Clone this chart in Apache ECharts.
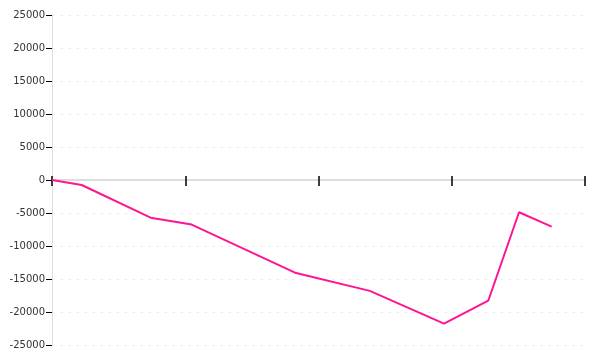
<!DOCTYPE html>
<html><head><meta charset="utf-8">
<script src="https://cdn.jsdelivr.net/npm/echarts@6/dist/echarts.min.js"></script>
<style>html,body{margin:0;padding:0;background:#fff}#c{width:600px;height:360px}</style>
</head><body><div id="c"></div>
<script>
var xValues = [0, 0.223, 0.74, 1.048, 1.824, 2.385, 2.942, 3.274, 3.505, 3.750];
var yValues = [0, -760, -5710, -6750, -14040, -16800, -21770, -18290, -4890, -7070];
var yTicks = [-25000, -20000, -15000, -10000, -5000, 0, 5000, 10000, 15000, 20000, 25000];

var data = xValues.map(function(x, i){ return [x, yValues[i]]; });
var chart = echarts.init(document.getElementById('c'), null, {renderer:'canvas'});
var labelFont = {color:'#333', fontFamily:'DejaVu Sans', fontSize:10};
chart.setOption({
  animation:false,
  grid:{left:52, right:15, top:15, bottom:15, containLabel:false},
  xAxis:[{
    type:'value', min:0, max:4, interval:1,
    axisLine:{onZero:true, lineStyle:{color:'#ddd', width:2}},
    axisTick:{show:true, length:6, lineStyle:{color:'#000', width:1.5}},
    axisLabel:{show:false},
    splitLine:{show:false}
  },{
    type:'value', min:0, max:4, interval:1, position:'bottom', offset:-165,
    axisLine:{show:false, onZero:false},
    axisTick:{show:true, inside:true, length:4, lineStyle:{color:'#000', width:1.5}},
    axisLabel:{show:false},
    splitLine:{show:false}
  }],
  yAxis:{
    type:'value', min:yTicks[0], max:yTicks[yTicks.length-1], interval:5000,
    axisLine:{show:true, lineStyle:{color:'#ddd', width:1}},
    axisTick:{show:true, length:6, lineStyle:{color:'#000'}},
    axisLabel:Object.assign({margin:7, formatter:function(v){ return String(v); }}, labelFont),
    splitLine:{show:true, lineStyle:{color:'#eee', type:[3,5], width:1}}
  },
  series:[{
    type:'line', data:data, xAxisIndex:0, showSymbol:false, symbol:'none',
    lineStyle:{color:'#ff1493', width:2}, itemStyle:{color:'#ff1493'}
  }]
});
</script></body></html>
